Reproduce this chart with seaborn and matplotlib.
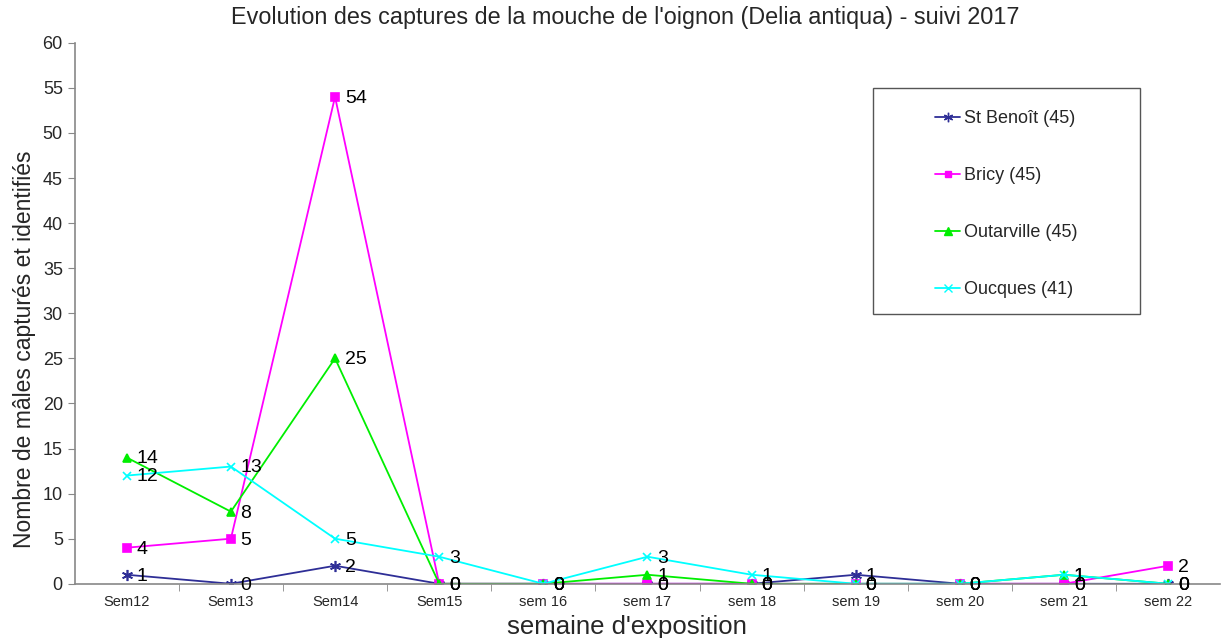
import seaborn as sns
import matplotlib.pyplot as plt
import pandas as pd
from matplotlib.lines import Line2D
from matplotlib.patches import Rectangle

# Weekly onion fly catches per site
weeks = ['Sem12', 'Sem13', 'Sem14', 'Sem15', 'sem 16', 'sem 17',
         'sem 18', 'sem 19', 'sem 20', 'sem 21', 'sem 22']
st_benoit = [1, 0, 2, 0, 0, 0, 0, 1, 0, 0, 0]
bricy = [4, 5, 54, 0, 0, 0, 0, 0, 0, 0, 2]
outarville = [14, 8, 25, 0, 0, 1, 0, 0, 0, 1, 0]
oucques = [12, 13, 5, 3, 0, 3, 1, 0, 0, 1, 0]

sites = ['St Benoît (45)', 'Bricy (45)', 'Outarville (45)', 'Oucques (41)']
series = [st_benoit, bricy, outarville, oucques]
colors = ['#2e2e96', '#ff00ff', '#00ee00', '#00ffff']
markers = [(6, 2, 0), 's', '^', 'x']
msizes = [8, 5.5, 6, 6]

rows = []
for site, vals in zip(sites, series):
    for i, v in enumerate(vals):
        rows.append({'pos': i, 'week': weeks[i], 'site': site, 'n': v})
df = pd.DataFrame(rows)

sns.set_style('white')
plt.rcParams['font.family'] = ['Liberation Sans', 'DejaVu Sans']

fig = plt.figure(figsize=(12.24, 6.38), dpi=100)
ax = fig.add_axes([0.061, 0.085, 0.936, 0.848])

# one call per site: seaborn won't mix filled and line-art markers
for site, c, m, ms in zip(sites, colors, markers, msizes):
    sub = df[df['site'] == site]
    sns.lineplot(data=sub, x='pos', y='n', color=c, marker=m,
                 markersize=ms, markeredgewidth=1.2, markeredgecolor=c,
                 linewidth=1.3, ax=ax)

# Data labels (overlapping zeros come out bold, as in the original)
for site, vals in zip(sites, series):
    for i, v in enumerate(vals):
        ax.annotate(str(v), (i, v), xytext=(7, -1), textcoords='offset points',
                    fontsize=14, va='center', ha='left', color='black')

ax.set_xlim(-0.5, len(weeks) - 0.5)
ax.set_ylim(0, 60)
ax.set_yticks(range(0, 61, 5))
ax.set_xticks(range(len(weeks)))
ax.set_xticklabels(weeks, fontsize=10.5)
ax.set_xticks([i + 0.5 for i in range(len(weeks) - 1)], minor=True)
ax.tick_params(axis='x', which='major', length=0, pad=8)
ax.tick_params(axis='x', which='minor', length=5, color='#888888', direction='out', bottom=True)
ax.tick_params(axis='y', length=5, color='#888888', direction='out', left=True, labelsize=13)

for s in ['top', 'right']:
    ax.spines[s].set_visible(False)
for s in ['left', 'bottom']:
    ax.spines[s].set_color('#888888')
    ax.spines[s].set_linewidth(1.2)

ax.set_xlabel("semaine d'exposition", fontsize=18.5)
ax.xaxis.set_label_coords(0.482, -0.058)
ax.set_ylabel('Nombre de mâles capturés et identifiés', fontsize=16.5)
ax.yaxis.set_label_coords(-0.034, 0.434)
fig.text(0.5106, 0.972,
         "Evolution des captures de la mouche de l'oignon (Delia antiqua) - suivi 2017",
         fontsize=16.8, ha='center', va='center')

# legend box drawn separately so the padding can be uneven like the original
fig.patches.append(Rectangle((0.7132, 0.5078), 0.2181, 0.3542, transform=fig.transFigure,
                             facecolor='white', edgecolor='#555555', linewidth=1.0,
                             zorder=5))
handles = [Line2D([0], [0], color=c, marker=m, markersize=ms * 0.85, linewidth=1.3, label=s)
           for s, c, m, ms in zip(sites, colors, markers, msizes)]
leg = fig.legend(handles=handles, loc='upper left', bbox_to_anchor=(0.7638, 0.8275),
                 fontsize=13, frameon=False, labelspacing=2.22, handlelength=1.4,
                 handletextpad=0.2, borderpad=0, borderaxespad=0)
leg.set_zorder(6)

plt.savefig('out.png', dpi=100)
